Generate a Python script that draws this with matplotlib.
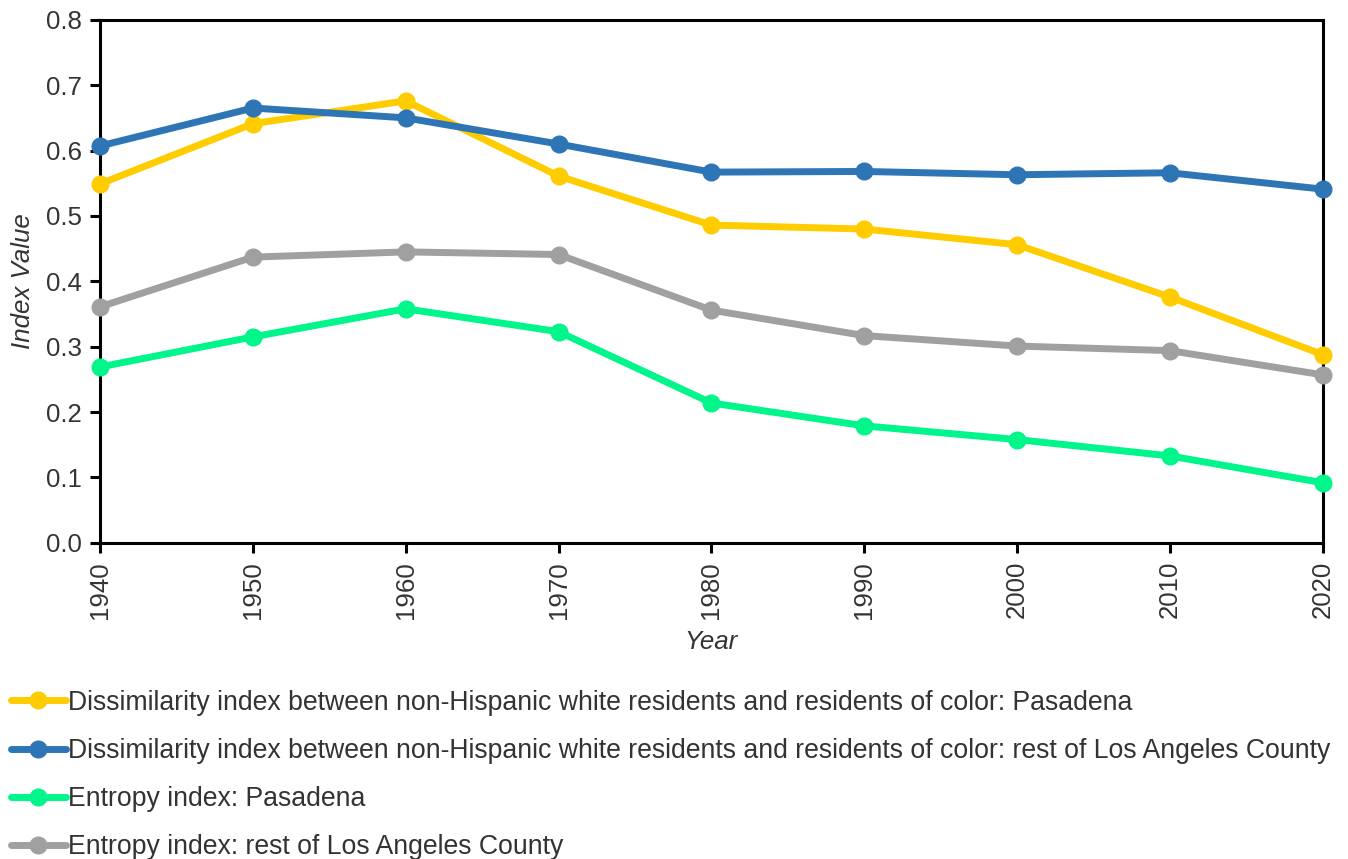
import matplotlib
matplotlib.use("Agg")
import matplotlib.pyplot as plt

plt.rcParams['font.family'] = ['Liberation Sans', 'DejaVu Sans']

years = [1940, 1950, 1960, 1970, 1980, 1990, 2000, 2010, 2020]
dis_pasadena = [0.549, 0.641, 0.676, 0.561, 0.486, 0.480, 0.456, 0.376, 0.288]
dis_rest_la = [0.607, 0.665, 0.650, 0.610, 0.567, 0.568, 0.563, 0.566, 0.541]
ent_pasadena = [0.269, 0.315, 0.358, 0.323, 0.214, 0.179, 0.158, 0.133, 0.092]
ent_rest_la = [0.361, 0.437, 0.445, 0.441, 0.356, 0.317, 0.301, 0.294, 0.257]

labels = [
    "Dissimilarity index between non-Hispanic white residents and residents of color: Pasadena",
    "Dissimilarity index between non-Hispanic white residents and residents of color: rest of Los Angeles County",
    "Entropy index: Pasadena",
    "Entropy index: rest of Los Angeles County",
]
colors = ["#FFCC00", "#2E75B6", "#00F58A", "#A0A0A0"]
series = [dis_pasadena, dis_rest_la, ent_pasadena, ent_rest_la]
yticks = [0.0, 0.1, 0.2, 0.3, 0.4, 0.5, 0.6, 0.7, 0.8]

fig = plt.figure(figsize=(13.48, 8.59), dpi=100)
ax = fig.add_axes([0.0742, 0.368, 0.907, 0.609])

for vals, c, lab in zip(series, colors, labels):
    ax.plot(years, vals, color=c, lw=5, marker='o', ms=12, label=lab,
            solid_capstyle='round', clip_on=False, zorder=3)

ax.set_xlim(1940, 2020)
ax.set_ylim(0, 0.8)
ax.set_xticks(years)
ax.set_xticklabels([str(y) for y in years], rotation=90)
ax.set_yticks(yticks)
ax.set_yticklabels([f"{v:.1f}" for v in yticks])
for s in ax.spines.values():
    s.set_linewidth(2.2)
    s.set_color('black')
ax.tick_params(axis='both', direction='out', length=7, width=2.2, labelsize=18.6,
               labelcolor='#333333', pad=6)
ax.set_xlabel("Year", fontsize=18.6, style='italic', color='#333333', labelpad=8)
ax.set_ylabel("Index Value", fontsize=18.6, style='italic', color='#333333', labelpad=8)

fig.legend(loc='upper left', bbox_to_anchor=(0.0003, 0.2095), ncol=1, frameon=False,
           fontsize=19.2, handlelength=2.05, handletextpad=0.08, labelspacing=0.83,
           borderaxespad=0, labelcolor='#333333')

fig.savefig("out.png", dpi=100)
